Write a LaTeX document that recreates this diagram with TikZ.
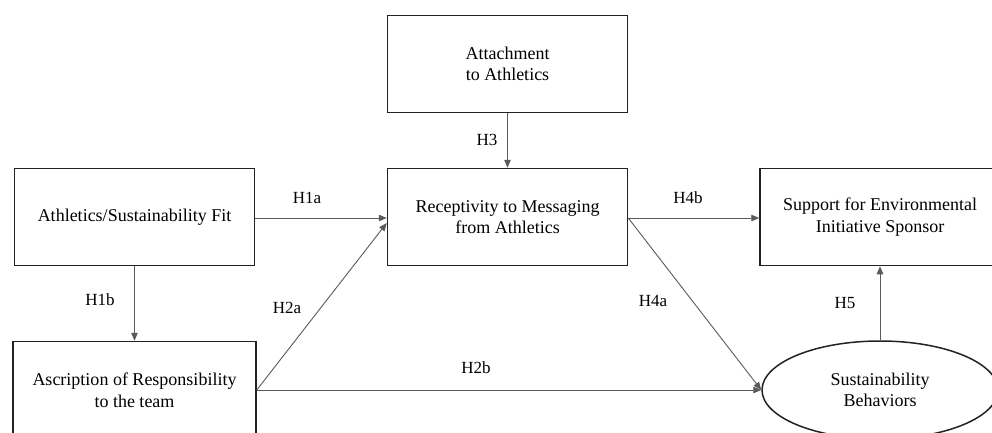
\documentclass[tikz,border=0pt]{standalone}
\usepackage{fontspec}
\setmainfont{Liberation Serif}
\usetikzlibrary{arrows.meta,shapes.geometric,calc}
\definecolor{boxline}{HTML}{222222}
\definecolor{arrline}{HTML}{5A5A5A}
\tikzset{
  box/.style={draw=boxline, line width=1.5pt, rectangle, minimum width=240pt, minimum height=97pt, inner sep=0pt, align=center, font=\fontsize{18}{21.5}\selectfont},
  oval/.style={draw=boxline, line width=1.5pt, ellipse, minimum width=236pt, minimum height=98pt, inner sep=0pt, align=center, font=\fontsize{18}{21.5}\selectfont},
  conn/.style={draw=arrline, line width=0.9pt, -{Triangle[length=8pt,width=6.5pt]}},
  hlab/.style={font=\fontsize{17}{20}\selectfont, inner sep=0pt}
}
\begin{document}
\begin{tikzpicture}[x=1pt,y=-1pt]
\useasboundingbox (0,0) rectangle (992,432);
\clip (0,0) rectangle (992,432);
\node[box] (att) at (507.5,64) {Attachment\\to Athletics};
\node[box] (fit) at (134.5,217) {Athletics/Sustainability Fit};
\node[box] (rec) at (507.5,217) {Receptivity to Messaging\\from Athletics};
\node[box] (sup) at (880,217) {Support for Environmental\\Initiative Sponsor};
\node[box, minimum width=243pt] (asc) at (134.5,390) {Ascription of Responsibility\\to the team};
\node[oval] (sb) at (880,390) {Sustainability\\Behaviors};
\draw[conn] ([yshift=-1pt]fit.east) -- ([yshift=-1pt]rec.west);
\draw[conn] (fit.south) -- (asc.north);
\draw[conn] (asc.east) -- ([yshift=-6pt]rec.west);
\draw[conn] (asc.east) -- (sb.west);
\draw[conn] (att.south) -- (rec.north);
\draw[conn] ([yshift=-1pt]rec.east) -- ([yshift=-1pt]sup.west);
\draw[conn] ([yshift=-1pt]rec.east) -- (sb.west);
\draw[conn] (sb.north) -- (sup.south);
\node[hlab] (l1a) at (307,198) {H1a};
\node[hlab] (l1b) at (100,300) {H1b};
\node[hlab] (l2a) at (287,308) {H2a};
\node[hlab] (l2b) at (476,368) {H2b};
\node[hlab] (l3) at (487,140) {H3};
\node[hlab] (l4b) at (688,198) {H4b};
\node[hlab] (l4a) at (653,301) {H4a};
\node[hlab] (l5) at (845,303) {H5};
\end{tikzpicture}
\end{document}
